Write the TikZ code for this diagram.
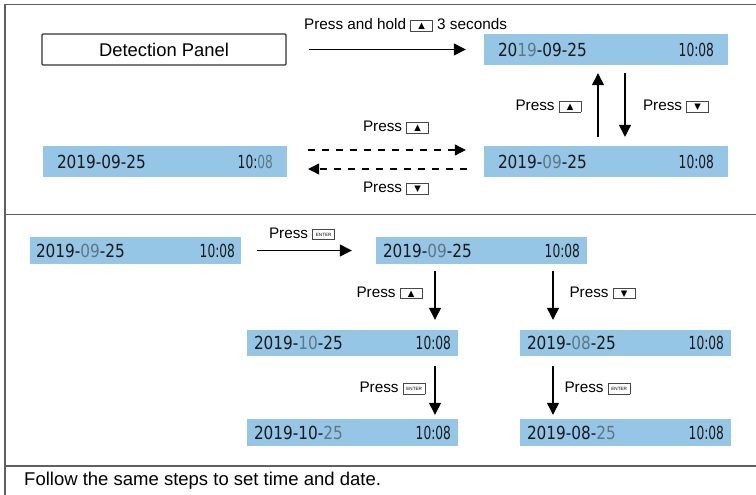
\documentclass[tikz,border=0pt]{standalone}
\usepackage{fontspec}
\setmainfont{Liberation Sans}
\newfontfamily\symfont{DejaVu Sans}
\newfontfamily\lcdfont[FakeStretch=0.85]{DejaVu Sans}
\newfontfamily\lcdtfont[FakeStretch=0.68]{DejaVu Sans}
\usetikzlibrary{arrows.meta}
\definecolor{lcdblue}{RGB}{150,198,230}
\definecolor{lcdgray}{RGB}{95,118,135}
\definecolor{lcddark}{RGB}{25,25,25}
\definecolor{framegray}{RGB}{95,95,95}
\definecolor{keygray}{RGB}{70,70,70}
\newcommand\keybox[1]{{\setlength\fboxsep{0pt}\setlength\fboxrule{0.8pt}\raisebox{1pt}{\fcolorbox{keygray}{white}{\makebox[21pt]{\rule[-2pt]{0pt}{10pt}#1}}}}}
\newcommand\upk{\keybox{\symfont\fontsize{8.5}{8.5}\selectfont ▲}}
\newcommand\dnk{\keybox{\symfont\fontsize{8.5}{8.5}\selectfont ▼}}
\newcommand\enk{\keybox{\raisebox{1pt}{\fontsize{4.6}{4.6}\selectfont ENTER}}}
\newcommand\gd[1]{\textcolor{lcdgray}{#1}}
\tikzset{
  lcd/.style={fill=lcdblue, draw=none, inner sep=0pt},
  digits/.style={font=\lcdfont\fontsize{18}{18}\selectfont, text=lcddark, inner sep=0pt},
  tdigits/.style={font=\lcdtfont\fontsize{18}{18}\selectfont, text=lcddark, inner sep=0pt},
  lbl/.style={font=\fontsize{15.3}{18}\selectfont, inner sep=0pt},
  arr/.style={line width=1.3pt, -{Triangle[length=12pt,width=12pt]}},
  dsh/.style={line width=1.1pt, dash pattern=on 7pt off 7pt, -{Triangle[length=11pt,width=11pt]}},
  frame/.style={draw=framegray, line width=1.5pt},
}
% name, center, width, height, date, time, inset
\newcommand\lcdbox[7]{%
  \node[lcd, minimum width=#3, minimum height=#4] (#1) at #2 {};
  \node[digits, anchor=west] (#1d) at ([xshift=#7]#1.west) {#5};
  \node[tdigits, anchor=east] (#1t) at ([xshift=-#7]#1.east) {#6};
}
\begin{document}
\begin{tikzpicture}[x=1pt,y=-1pt]
\useasboundingbox (0,0) rectangle (756,495);
% frame
\draw[frame] (5,496) -- (5,4.7) -- (757,4.7);
\draw[frame] (5,214.7) -- (757,214.7);
\draw[frame] (5,465.8) -- (757,465.8);

% top section
\node[draw=black!80, line width=1.3pt, rounded corners=1pt, minimum width=244, minimum height=31,
      font=\fontsize{18.4}{20}\selectfont, inner sep=0pt] (det) at (164,49.5) {Detection Panel};
\lcdbox{L1}{(606,49.5)}{244}{31}{20\gd{19}-09-25}{10:08}{14pt}
\lcdbox{L2}{(606,161.5)}{244}{31}{2019-\gd{09}-25}{10:08}{14pt}
\lcdbox{L0}{(165,161.5)}{244}{31}{2019-09-25}{10:\gd{08}}{14pt}

\draw[arr, shorten <=22pt, shorten >=18pt] (det) -- (L1);
\node[lbl] (holdlbl) at (405.5,25) {Press and hold \upk{} 3 seconds};

\coordinate (ux) at (598,0);
\coordinate (dx) at (625,0);
\draw[arr, shorten <=9pt, shorten >=8pt] (L2.north -| ux) -- (L1.south -| ux);
\draw[arr, shorten <=8pt, shorten >=9pt] (L1.south -| dx) -- (L2.north -| dx);
\node[lbl] (uplbl) at (548.5,106.5) {Press \upk};
\node[lbl] (dnlbl) at (676,106.5) {Press \dnk};

\draw[dsh, shorten <=21pt, shorten >=18pt] ([yshift=11.5pt]L0.east) -- ([yshift=11.5pt]L2.west);
\draw[dsh, shorten <=17pt, shorten >=21pt] ([yshift=-7.5pt]L2.west) -- ([yshift=-7.5pt]L0.east);
\node[lbl] (dashup) at (396,127.5) {Press \upk};
\node[lbl] (dashdn) at (396,188.5) {Press \dnk};

% bottom section
\lcdbox{A}{(135.5,250.5)}{211}{27}{2019-\gd{09}-25}{10:08}{6pt}
\lcdbox{B}{(481.5,250.5)}{211}{27}{2019-\gd{09}-25}{10:08}{7pt}
\lcdbox{C}{(352.5,343)}{211}{26}{2019-\gd{10}-25}{10:08}{7pt}
\lcdbox{D}{(625.5,343)}{211}{26}{2019-\gd{08}-25}{10:08}{7pt}
\lcdbox{E}{(352.5,432.5)}{211}{27}{2019-10-\gd{25}}{10:08}{7pt}
\lcdbox{F}{(625.5,432.5)}{211}{27}{2019-08-\gd{25}}{10:08}{7pt}

\draw[arr, shorten <=16pt, shorten >=24pt] (A) -- (B);
\node[lbl] (entlbl) at (302,234) {Press \enk};

\coordinate (lx) at (435,0);
\coordinate (rx) at (553,0);
\draw[arr, shorten <=7pt, shorten >=10pt] (B.south -| lx) -- (C.north -| lx);
\draw[arr, shorten <=7pt, shorten >=10pt] (B.south -| rx) -- (D.north -| rx);
\node[lbl] (bup) at (389.5,293) {Press \upk};
\node[lbl] (bdn) at (602.5,293) {Press \dnk};

\draw[arr, shorten <=10pt, shorten >=4pt] (C.south -| lx) -- (E.north -| lx);
\draw[arr, shorten <=10pt, shorten >=4pt] (D.south -| rx) -- (F.north -| rx);
\node[lbl] (lent) at (392.5,388.5) {Press \enk};
\node[lbl] (rent) at (597.5,388.5) {Press \enk};

\node[anchor=west, font=\fontsize{18.5}{20}\selectfont, inner sep=0pt] (follow) at (24,481) {Follow the same steps to set time and date.};
\end{tikzpicture}
\end{document}
